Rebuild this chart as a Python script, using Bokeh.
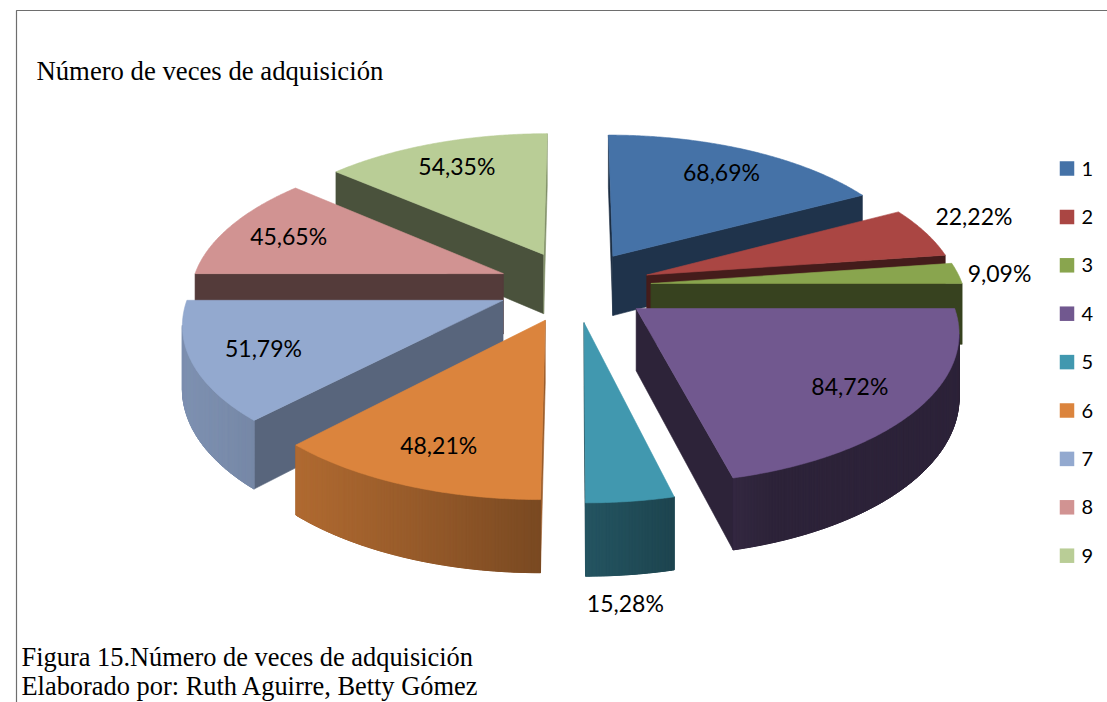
import numpy as np
from bokeh.plotting import figure
from bokeh.models import Range1d, ColumnDataSource
from bokeh.embed import file_html
from bokeh.resources import INLINE
from bokeh.core.properties import value

# ---------------- data ----------------
title_text = "Número de veces de adquisición"
caption_lines = ["Figura 15.Número de veces de adquisición",
                 "Elaborado por: Ruth Aguirre, Betty Gómez"]
categories = ["1", "2", "3", "4", "5", "6", "7", "8", "9"]
values = [68.69, 22.22, 9.09, 84.72, 15.28, 48.21, 51.79, 45.65, 54.35]
colors = ["#4572A7", "#AA4643", "#89A54E", "#71588F", "#4198AF",
          "#DB843D", "#93A9CF", "#D19392", "#B9CD96"]
labels = [("%.2f" % v).replace(".", ",") + "%" for v in values]

# ---------------- 3-D view (page pixel space) ----------------
CX, CY = 574.0, 285.5
RX, RY = 312.0, 145.0
PERSP = 0.135
DEPTH = 61.0
EXPLODE = 0.246
CAM_V = -1.0 / PERSP
LABEL_FONT = "Lato"


def proj(u, v, h):
    w = 1.0 + PERSP * v
    return CX + RX * u / w, CY - RY * v / w + DEPTH * h / w


def hex2rgb(c):
    c = c.lstrip("#")
    return [int(c[i:i + 2], 16) for i in (0, 2, 4)]


def shade(c, f):
    r, g, b = hex2rgb(c)
    return "#%02x%02x%02x" % tuple(max(0, min(255, int(round(x * f)))) for x in (r, g, b))


def curve_f(t):
    return 0.40 + 0.45 * max(0.0, np.cos(t - np.radians(250)))


total = float(sum(values))
cum = np.cumsum(values)
starts = np.concatenate([[0.0], cum[:-1]]) / total * 2 * np.pi
ends = cum / total * 2 * np.pi
mids = (starts + ends) / 2
order = np.argsort(-np.cos(mids))

xs, ys, fills, lws = [], [], [], []


def add_poly(pts, col, lw):
    px, py = [], []
    for (u, v, h) in pts:
        a, b = proj(u, v, h)
        px.append(a)
        py.append(b)
    xs.append(px)
    ys.append(py)
    fills.append(col)
    lws.append(lw)


for i in order:
    a0, a1, am = starts[i], ends[i], mids[i]
    ou, ov = EXPLODE * np.sin(am), EXPLODE * np.cos(am)
    n = max(6, int(np.degrees(a1 - a0) * 2))
    phi = np.linspace(a0, a1, n + 1)
    cdu, cdv = -ou, CAM_V - ov
    # radial faces
    for a, nu, nv in ((a0, -np.cos(a0), np.sin(a0)), (a1, np.cos(a1), -np.sin(a1))):
        if cdu * nu + cdv * nv > 0:
            eu, ev = ou + np.sin(a), ov + np.cos(a)
            psi = np.degrees(np.arctan2(nu, nv)) % 360
            f = 0.40 + 0.7 * max(0.0, np.cos(np.radians(psi - 100)) - 0.55)
            add_poly([(ou, ov, 0), (eu, ev, 0), (eu, ev, 1), (ou, ov, 1)], shade(colors[i], f), 0.6)
    # curved outer face: visible segments
    vis = []
    for k in range(n):
        pm = 0.5 * (phi[k] + phi[k + 1])
        nu, nv = np.sin(pm), np.cos(pm)
        pu, pv = ou + nu, ov + nv
        if (-pu) * nu + (CAM_V - pv) * nv > 0:
            vis.append(k)
    if vis:
        k0, k1 = vis[0], vis[-1] + 1
        seg = phi[k0:k1 + 1]
        # backing polygon to hide seams between the shaded strips
        top = [(ou + np.sin(t), ov + np.cos(t), 0) for t in seg]
        bot = [(ou + np.sin(t), ov + np.cos(t), 1) for t in seg[::-1]]
        add_poly(top + bot, shade(colors[i], curve_f(seg.mean())), 0.6)
        for k in vis:
            pm = 0.5 * (phi[k] + phi[k + 1])
            u0, v0 = ou + np.sin(phi[k]), ov + np.cos(phi[k])
            u1, v1 = ou + np.sin(phi[k + 1]), ov + np.cos(phi[k + 1])
            add_poly([(u0, v0, 0), (u1, v1, 0), (u1, v1, 1), (u0, v0, 1)],
                     shade(colors[i], curve_f(pm)), 1.0)
    # top face
    pts = [(ou, ov, 0)] + [(ou + np.sin(t), ov + np.cos(t), 0) for t in phi]
    add_poly(pts, colors[i], 0.6)

p = figure(width=1107, height=702, output_backend="svg", toolbar_location=None,
           x_range=Range1d(0, 1107), y_range=Range1d(702, 0), min_border=0)
p.axis.visible = False
p.grid.visible = False
p.outline_line_color = None
p.background_fill_color = "white"
p.border_fill_color = "white"

p.patches(xs="xs", ys="ys", fill_color="fc", line_color="fc", line_width="lw",
          source=ColumnDataSource(dict(xs=xs, ys=ys, fc=fills, lw=lws)))

# ---------------- data labels ----------------
in_x, in_y, in_t = [], [], []
out_rows = []
for i in range(len(values)):
    am = mids[i]
    ou, ov = EXPLODE * np.sin(am), EXPLODE * np.cos(am)
    if values[i] >= 25:
        x, y = proj(ou + 0.78 * np.sin(am), ov + 0.78 * np.cos(am), 0)
        in_x.append(x); in_y.append(y); in_t.append(labels[i])
    else:
        ru, rv = ou + np.sin(am), ov + np.cos(am)
        x0, y0 = proj(ru, rv, 0)
        x1, y1 = proj(ru + 0.1 * np.sin(am), rv + 0.1 * np.cos(am), 0)
        dx, dy = x1 - x0, y1 - y0
        L = np.hypot(dx, dy); dx /= L; dy /= L
        if dy > 0.7:
            xb, yb = proj(ru, rv, 1)
            out_rows.append((xb - 5, yb + 14, labels[i], "center", "top"))
        else:
            base = "bottom" if dy < -0.1 else "middle"
            al = "left" if dx > 0 else "right"
            out_rows.append((x0 + 10 * np.sign(dx), y0 - (2 if base == "bottom" else 0),
                             labels[i], al, base))

p.text(x=in_x, y=in_y, text=in_t, text_align="center", text_baseline="middle",
       text_font=value(LABEL_FONT), text_font_size="23px", text_color="black")
for (x, y, t, al, bl) in out_rows:
    p.text(x=[x], y=[y], text=[t], text_align=al, text_baseline=bl,
           text_font=value(LABEL_FONT), text_font_size="23px", text_color="black")

# ---------------- legend ----------------
leg_y = [168 + k * 48.4 for k in range(len(categories))]
p.scatter(x=[1066.5] * len(categories), y=leg_y, marker="square", size=14.5,
          fill_color=colors, line_color=None)
p.text(x=[1081] * len(categories), y=leg_y, text=categories, text_align="left",
       text_baseline="middle", text_font=value(LABEL_FONT), text_font_size="20px",
       text_color="black")

# ---------------- title, caption, frame ----------------
p.text(x=[36], y=[70], text=[title_text], text_baseline="alphabetic",
       text_font=value("Liberation Serif"), text_font_size="26.7px", text_color="black")
p.text(x=[21, 21], y=[656, 685], text=caption_lines, text_baseline="alphabetic",
       text_font=value("Liberation Serif"), text_font_size="26.4px", text_color="black")
p.line(x=[16, 16, 1107], y=[702, 10, 10], line_color="#6e6e6e", line_width=1.2)

open("out.html", "w").write(file_html(p, INLINE))
